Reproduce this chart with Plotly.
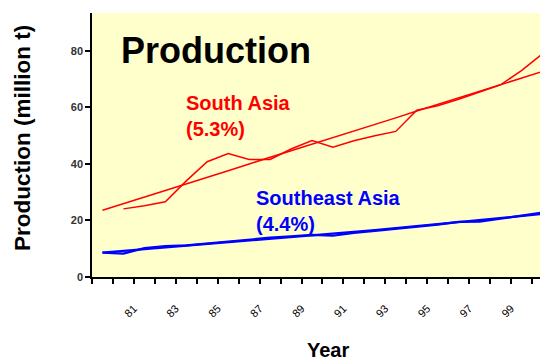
import plotly.graph_objects as go

# ---- data ----
years = list(range(1979, 2001))  # 22 years
south_trend = [23.6, 25.9, 28.3, 30.6, 32.9, 35.3, 37.6, 40.0, 42.3, 44.6, 47.0,
               49.3, 51.6, 54.0, 56.3, 58.7, 61.0, 63.3, 65.7, 68.0, 70.4, 72.7]
south_actual = [None, 24.1, 25.2, 26.6, 34.0, 40.8, 43.7, 41.6, 41.6, 45.3, 48.3,
                45.9, 48.2, 50.0, 51.5, 59.0, 60.6, 62.9, 65.5, 68.0, 73.0, 79.0]
se_trend = [8.6, 9.2, 9.9, 10.5, 11.1, 11.7, 12.3, 12.9, 13.5, 14.1, 14.7,
            15.3, 15.9, 16.6, 17.3, 18.0, 18.7, 19.4, 20.1, 20.8, 21.5, 22.3]
se_actual = [8.6, 8.3, 10.2, 10.9, 11.2, 11.9, 12.6, 13.2, 13.9, 14.4, 14.9,
             14.6, 15.6, 16.3, 17.0, 17.8, 18.5, 19.5, 19.6, 20.6, 21.7, 22.8]
label_years = list(range(1981, 2000, 2))
label_text = [str(y)[2:] for y in label_years]
yticks = [0, 20, 40, 60, 80]

x_mid = [y + 0.5 for y in years]

RED = "#FF0000"
BLUE = "#0000FF"
FONT = "Liberation Sans, Arial, sans-serif"

fig = go.Figure()
fig.add_trace(go.Scatter(x=x_mid, y=south_trend, mode="lines",
                         line=dict(color=RED, width=1.5), showlegend=False))
fig.add_trace(go.Scatter(x=x_mid, y=south_actual, mode="lines",
                         line=dict(color=RED, width=1.5), showlegend=False))
fig.add_trace(go.Scatter(x=x_mid, y=se_trend, mode="lines",
                         line=dict(color=BLUE, width=2.2), showlegend=False))
fig.add_trace(go.Scatter(x=x_mid, y=se_actual, mode="lines",
                         line=dict(color=BLUE, width=2.2), showlegend=False))

L, R, T, B = 92, 0, 13, 84
W, H = 540, 361
pw, ph = W - L - R, H - T - B

def px(x):
    return (x - L) / pw

def py(y):
    return (H - B - y) / ph

annots = [
    dict(text="<b>Production</b>", x=px(119), y=py(50), xanchor="left", yanchor="middle",
         font=dict(size=36, color="black", family=FONT)),
    dict(text="<b>South Asia<br>(5.3%)</b>", x=px(184), y=py(116), xanchor="left",
         yanchor="middle", align="left", font=dict(size=20, color=RED, family=FONT)),
    dict(text="<b>Southeast Asia<br>(4.4%)</b>", x=px(254), y=py(211), xanchor="left",
         yanchor="middle", align="left", font=dict(size=20, color=BLUE, family=FONT)),
    dict(text="<b>Production (million t)</b>", x=px(22), y=py(138), textangle=-90,
         xanchor="center", yanchor="middle", font=dict(size=22.5, color="black", family=FONT)),
    dict(text="<b>Year</b>", x=px(328), y=py(350), xanchor="center", yanchor="middle",
         font=dict(size=20, color="black", family=FONT)),
]
for a in annots:
    a.update(xref="paper", yref="paper", showarrow=False)

fig.update_layout(
    width=W, height=H,
    margin=dict(l=L, r=R, t=T, b=B),
    paper_bgcolor="white",
    plot_bgcolor="#FFFFCC",
    annotations=annots,
    xaxis=dict(range=[1979, 1979 + 448 / 20.95], showgrid=False, zeroline=False,
               showline=True, linecolor="black", linewidth=1.5,
               tickmode="array", tickvals=label_years, ticktext=label_text,
               ticks="outside", ticklen=5, tickwidth=1.5, tickcolor="black",
               tickangle=-45, ticklabelstandoff=14,
               tickfont=dict(size=11, color="black", family=FONT),
               minor=dict(dtick=1, tick0=1979, ticks="outside", ticklen=5,
                          tickwidth=1.5, tickcolor="black", showgrid=False)),
    yaxis=dict(range=[0, 93.4], showgrid=False, zeroline=False,
               showline=True, linecolor="black", linewidth=1.5,
               tickmode="array", tickvals=yticks,
               ticks="outside", ticklen=5, tickwidth=1.5, tickcolor="black",
               tickfont=dict(size=11, color="#333", family=FONT, weight="bold")),
)

fig.write_html("out.html")
